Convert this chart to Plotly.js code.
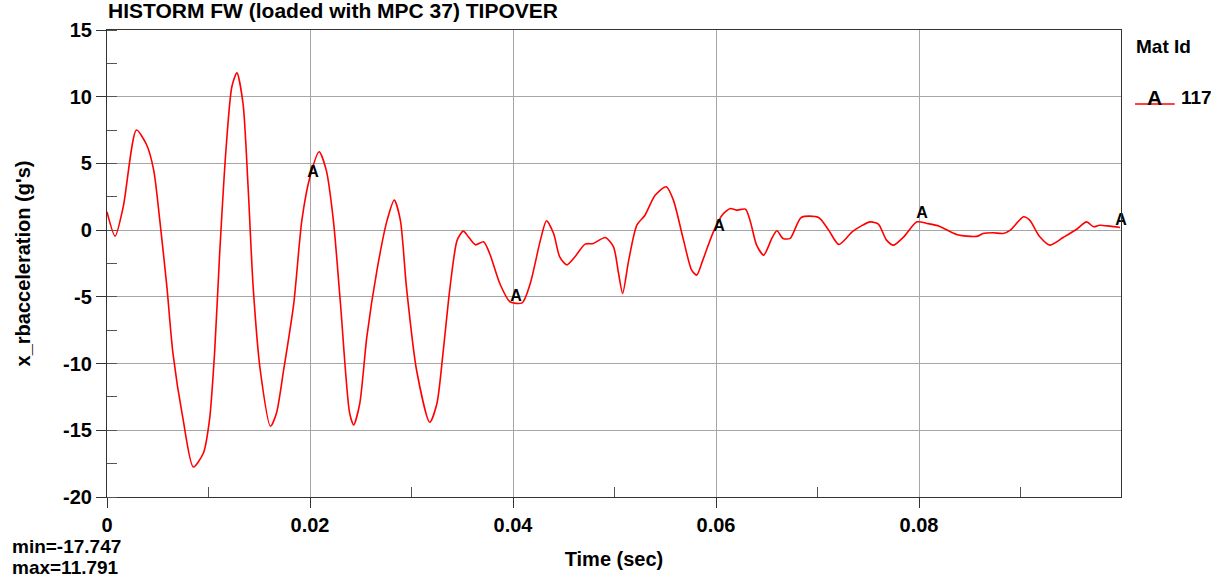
<!DOCTYPE html>
<html>
<head>
<meta charset="utf-8">
<script src="https://cdn.plot.ly/plotly-3.0.1.min.js"></script>
<style>html,body{margin:0;padding:0;background:#fff;}#chart{width:1211px;height:579px;}</style>
</head>
<body>
<div id="chart"></div>
<script>
const time = [0,0.0008,0.0016,0.0029,0.0039,0.0046,0.0052,0.0059,0.0065,0.0075,0.0085,0.0095,0.0101,0.0106,0.0111,0.0117,0.0123,0.0128,0.0134,0.0139,0.0144,0.0151,0.0161,0.0167,0.0174,0.0184,0.0192,0.02,0.0209,0.0216,0.0223,0.023,0.0239,0.0243,0.0249,0.0256,0.0266,0.0276,0.0283,0.0289,0.0295,0.0305,0.0318,0.0325,0.0331,0.0338,0.0345,0.0351,0.0356,0.0363,0.0371,0.0377,0.0387,0.0397,0.0409,0.0417,0.0427,0.0433,0.044,0.0446,0.0453,0.0461,0.0471,0.0479,0.0491,0.0499,0.0504,0.0508,0.0514,0.0522,0.053,0.054,0.0551,0.0558,0.0568,0.0576,0.0581,0.0587,0.0597,0.0606,0.0614,0.062,0.0629,0.0634,0.064,0.0647,0.0655,0.066,0.0666,0.0673,0.0684,0.0701,0.0711,0.0721,0.0735,0.0752,0.076,0.0768,0.0775,0.0785,0.0798,0.0808,0.082,0.0831,0.0839,0.0847,0.0858,0.0863,0.0873,0.0883,0.089,0.0903,0.0909,0.0919,0.0929,0.0942,0.0955,0.0965,0.0972,0.0978,0.0988,0.0998];
const accel = [1.37,-0.45,1.75,7.5,6.4,4.5,0.75,-4.25,-9.25,-14.2,-17.75,-16.7,-14.2,-9.2,-1.75,5.8,10.75,11.79,9.5,3.25,-4.25,-10.5,-14.7,-13.7,-10.5,-5.5,0.75,4.0,5.87,4.5,0.75,-5.5,-13.7,-14.6,-13,-8,-3,0.75,2.25,0.75,-4.25,-10.5,-14.4,-13,-9.25,-4.25,-0.75,-0.07,-0.5,-1.1,-0.87,-1.75,-4,-5.37,-5.45,-4,-0.75,0.7,-0.25,-2.0,-2.6,-2.0,-1.05,-1.0,-0.55,-1.25,-3.25,-4.75,-2.25,0.37,1.12,2.62,3.25,2.25,-0.75,-3.0,-3.37,-2.25,-0.2,1.12,1.62,1.5,1.57,0.6,-1.12,-1.87,-0.62,-0.05,-0.62,-0.62,0.95,0.95,0,-1.07,-0.07,0.62,0.45,-0.75,-1.12,-0.5,0.62,0.5,0.3,-0.12,-0.37,-0.45,-0.45,-0.25,-0.2,-0.25,0,1.0,0.75,-0.5,-1.12,-0.55,0.05,0.62,0.25,0.37,0.3,0.2];
const markerTime = [0.0203,0.0403,0.0603,0.0803,0.0999];
const markerValue = [4.27,-5.0,0.22,1.2,0.67];
const markerText = ["A","A","A","A","A"];
const xTickVals = [0,0.02,0.04,0.06,0.08];
const xTickText = ['0','0.02','0.04','0.06','0.08'];
const yTickVals = [-20,-15,-10,-5,0,5,10,15];
const yTickText = ['-20','-15','-10','-5','0','5','10','15'];
const seriesLabel = "117";
const seriesId = "A";
const legendTitle = "Mat Id";
const minText = "min=-17.747";
const maxText = "max=11.791";

const F = "Arial, 'Liberation Sans', sans-serif";
const data = [
  {x: time, y: accel, type: 'scatter', mode: 'lines',
   line: {color: '#ff0000', width: 1.6, shape: 'spline', smoothing: 0.7},
   showlegend: false, hoverinfo: 'x+y'},
  {x: markerTime, y: markerValue, type: 'scatter', mode: 'text', text: markerText,
   textposition: 'middle center', cliponaxis: false,
   textfont: {family: F, size: 16, color: '#000', weight: 'bold'}, showlegend: false}
];
const layout = {
  width: 1211, height: 579,
  margin: {l: 107, r: 90, t: 30, b: 82},
  paper_bgcolor: '#fff', plot_bgcolor: '#fff',
  showlegend: false,
  font: {family: F, size: 20, color: '#000', weight: 'bold'},
  title: {text: 'HISTORM FW (loaded with MPC 37) TIPOVER', x: 0, xref: 'paper', xanchor: 'left',
          y: 1, yref: 'container', yanchor: 'top', pad: {t: 3, l: 1},
          font: {family: F, size: 21, color: '#000', weight: 'bold'}},
  xaxis: {range: [0, 0.0999], tickvals: xTickVals, ticktext: xTickText,
          ticks: 'outside', ticklen: 10, tickcolor: '#333', showgrid: true, gridcolor: '#a6a6a6', gridwidth: 1,
          showline: true, linecolor: '#333', linewidth: 1.2, mirror: true, zeroline: false,
          minor: {tickvals: [0.01,0.03,0.05,0.07,0.09], ticks: 'inside', ticklen: 10, tickcolor: '#555', showgrid: false},
          tickfont: {family: F, size: 20, weight: 'bold'},
          title: {text: 'Time (sec)', standoff: 16, font: {family: F, size: 20, weight: 'bold'}}},
  yaxis: {range: [-20, 15], tickvals: yTickVals, ticktext: yTickText,
          ticks: 'outside', ticklen: 10, tickcolor: '#333', showgrid: true, gridcolor: '#a6a6a6', gridwidth: 1,
          showline: true, linecolor: '#333', linewidth: 1.2, mirror: true, zeroline: false,
          minor: {dtick: 2.5, ticks: 'inside', ticklen: 10, tickcolor: '#555', showgrid: false},
          tickfont: {family: F, size: 20, weight: 'bold'},
          title: {text: "x_rbacceleration (g's)", standoff: 26, font: {family: F, size: 20, weight: 'bold'}}},
  shapes: [
    {type: 'line', xref: 'paper', yref: 'paper', x0: 1.0138, x1: 1.053, y0: 0.8415, y1: 0.8415,
     line: {color: '#ff0000', width: 1.5}}
  ],
  annotations: [
    {text: legendTitle, xref: 'paper', yref: 'paper', x: 1.0128, y: 0.9636, xanchor: 'left', yanchor: 'middle',
     showarrow: false, font: {family: F, size: 19, weight: 'bold'}},
    {text: seriesId, xref: 'paper', yref: 'paper', x: 1.0335, y: 0.8565, xanchor: 'center', yanchor: 'middle',
     showarrow: false, font: {family: F, size: 21, weight: 'bold'}},
    {text: seriesLabel, xref: 'paper', yref: 'paper', x: 1.057, y: 0.8565, xanchor: 'left', yanchor: 'middle',
     showarrow: false, font: {family: F, size: 19, weight: 'bold'}},
    {text: minText, xref: 'paper', yref: 'paper', x: -0.0957, y: -0.107, xanchor: 'left', yanchor: 'middle',
     showarrow: false, font: {family: F, size: 19, weight: 'bold'}},
    {text: maxText, xref: 'paper', yref: 'paper', x: -0.0957, y: -0.150, xanchor: 'left', yanchor: 'middle',
     showarrow: false, font: {family: F, size: 19, weight: 'bold'}}
  ]
};
Plotly.newPlot('chart', data, layout, {displayModeBar: false, responsive: false});
</script>
</body>
</html>
